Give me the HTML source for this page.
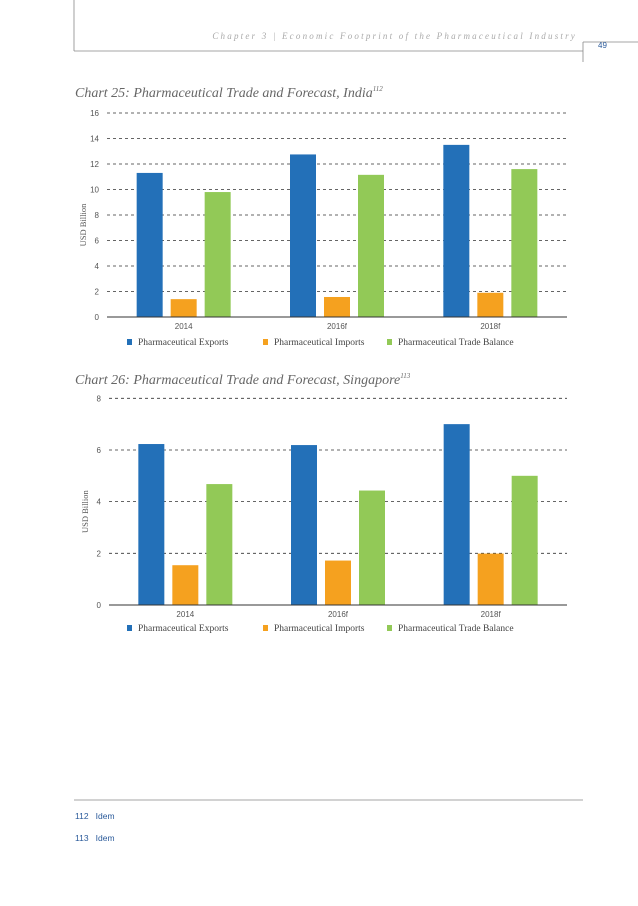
<!DOCTYPE html>
<html><head><meta charset="utf-8">
<style>
body{margin:0;background:#fff;}
svg{display:block;font-family:"Liberation Serif",serif;}
</style></head>
<body>
<svg id="page" width="638" height="906" viewBox="0 0 638 906">
  <g>
    <line x1="74" y1="0" x2="74" y2="51" stroke="#888" stroke-width="0.8"/>
    <line x1="74" y1="51" x2="583" y2="51" stroke="#888" stroke-width="0.8"/>
    <line x1="583" y1="42" x2="638" y2="42" stroke="#888" stroke-width="0.8"/>
    <line x1="583" y1="42" x2="583" y2="62" stroke="#888" stroke-width="0.8"/>
    <text x="577" y="39" text-anchor="end" font-size="9" font-style="italic" fill="#aaa" letter-spacing="2.2">Chapter 3 | Economic Footprint of the Pharmaceutical Industry</text>
    <text x="598" y="48" font-size="8" fill="#2a5a9a" font-family="Liberation Sans, sans-serif">49</text>
  </g>
  <text x="75" y="97" font-size="14" font-style="italic" fill="#666">Chart 25: Pharmaceutical Trade and Forecast, India<tspan font-size="7" dy="-6">112</tspan></text>
  <text x="75" y="384" font-size="14" font-style="italic" fill="#666">Chart 26: Pharmaceutical Trade and Forecast, Singapore<tspan font-size="7" dy="-6">113</tspan></text>
  <g id="c1"></g>
  <g id="c2"></g>
  <g>
    <line x1="74" y1="800" x2="583" y2="800" stroke="#888" stroke-width="0.8"/>
    <text x="75" y="819" font-size="8.5" fill="#2a5a9a" font-family="Liberation Sans, sans-serif">112&#160;&#160;&#160;Idem</text>
    <text x="75" y="841" font-size="8.5" fill="#2a5a9a" font-family="Liberation Sans, sans-serif">113&#160;&#160;&#160;Idem</text>
  </g>
</svg>
<script>
const categories = ["2014","2016f","2018f"];
const seriesNames = ["Pharmaceutical Exports","Pharmaceutical Imports","Pharmaceutical Trade Balance"];
const indiaExports = [11.3,12.75,13.5];
const indiaImports = [1.4,1.57,1.9];
const indiaBalance = [9.8,11.15,11.6];
const indiaTicks = [0,2,4,6,8,10,12,14,16];
const sgExports = [6.23,6.19,7.0];
const sgImports = [1.54,1.72,1.99];
const sgBalance = [4.68,4.43,5.0];
const sgTicks = [0,2,4,6,8];
const colors = ["#2370b8","#f5a11f","#92c957"];
const NS = "http://www.w3.org/2000/svg";
function mk(parent, tag, attrs){const e=document.createElementNS(NS,tag);for(const k in attrs)e.setAttribute(k,attrs[k]);parent.appendChild(e);return e;}
function draw(gid, series, ticks, x0, x1, yZero, yTop, legendY, key){
  const g=document.getElementById(gid);
  const maxV=ticks[ticks.length-1];
  const y=v=>yZero-(v/maxV)*(yZero-yTop);
  const step=(x1-x0)/categories.length;
  ticks.forEach((t,i)=>{
    if(t>0){const l=mk(g,'line',{x1:x0,x2:x1,y1:y(t),y2:y(t),stroke:'#333','stroke-width':0.8,'stroke-dasharray':'3,3'});
    
    }
    const tx=mk(g,'text',{x:x0-8,y:y(t)+3,'font-size':8,fill:'#555','text-anchor':'end','font-family':'Liberation Sans, sans-serif'});
    tx.textContent=t;
    
    
  });
  const yt=mk(g,'text',{x:0,y:0,'font-size':8.5,fill:'#555','text-anchor':'middle',transform:`translate(${x0-21},${(yZero+yTop)/2+10}) rotate(-90)`});
  yt.textContent='USD Billion';
  
  
  const bw=26, gap=8;
  categories.forEach((c,ci)=>{
    const cx=x0+step*(ci+0.5);
    series.forEach((s,si)=>{
      const bx=cx+(si-1)*(bw+gap)-bw/2;
      const r=mk(g,'rect',{x:bx,y:y(s[ci]),width:bw,height:yZero-y(s[ci]),fill:colors[si]});
      
      
    });
    const lt=mk(g,'text',{x:cx,y:yZero+12,'font-size':8,fill:'#555','text-anchor':'middle','font-family':'Liberation Sans, sans-serif'});
    lt.textContent=c;
    
    
  });
  const ax=mk(g,'line',{x1:x0,x2:x1,y1:yZero,y2:yZero,stroke:'#333','stroke-width':1});
  
  
  const lx=[127,263,387];
  seriesNames.forEach((n,i)=>{
    const sq=mk(g,'rect',{x:lx[i],y:legendY-6,width:5,height:6,fill:colors[i]});
    
    
    const t=mk(g,'text',{x:lx[i]+11,y:legendY,'font-size':9.5,fill:'#444'});
    t.textContent=n;
    
    
  });
}
draw('c1',[indiaExports,indiaImports,indiaBalance],indiaTicks,107,567,317,113,345,'india');
draw('c2',[sgExports,sgImports,sgBalance],sgTicks,109,567,605,398.3,631,'sg');
</script>
</body></html>
